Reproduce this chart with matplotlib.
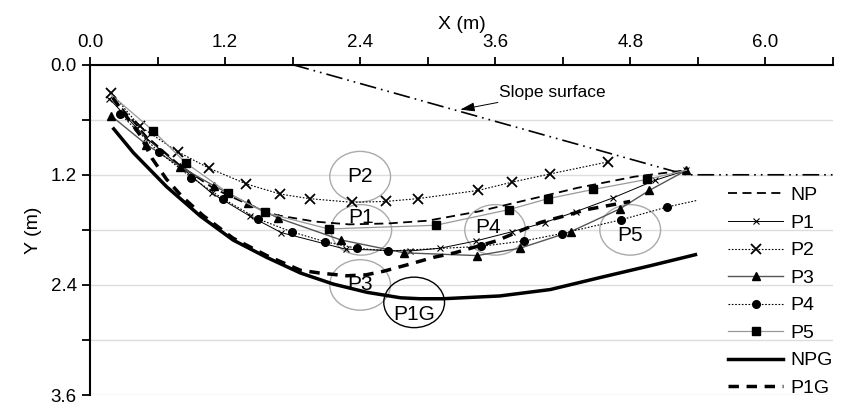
import matplotlib
matplotlib.use("Agg")
import matplotlib.pyplot as plt
from matplotlib.patches import Ellipse
from matplotlib.ticker import MultipleLocator

plt.rcParams['font.family'] = ['Liberation Sans', 'DejaVu Sans']

# slip surfaces (x, y in m, y measured downward)
np_x = [0.2, 0.5, 0.8, 1.1, 1.4, 1.66, 2.0, 2.3, 2.65, 3.0, 3.45, 4.0, 4.34, 4.84, 5.3]
np_y = [0.36, 0.78, 1.1, 1.35, 1.52, 1.64, 1.71, 1.74, 1.73, 1.70, 1.60, 1.44, 1.34, 1.22, 1.15]

p1_x = [0.17, 0.5, 0.82, 1.08, 1.42, 1.70, 2.27, 2.84, 3.11, 3.43, 3.75, 4.04, 4.32, 4.65, 5.02, 5.30]
p1_y = [0.37, 0.8, 1.13, 1.40, 1.65, 1.83, 2.01, 2.03, 2.0, 1.92, 1.82, 1.72, 1.60, 1.45, 1.26, 1.15]

p2_x = [0.19, 0.44, 0.78, 1.06, 1.39, 1.69, 1.95, 2.33, 2.63, 2.91, 3.45, 3.75, 4.09, 4.6]
p2_y = [0.31, 0.67, 0.95, 1.13, 1.30, 1.41, 1.46, 1.50, 1.49, 1.46, 1.37, 1.28, 1.19, 1.06]

p3_x = [0.19, 0.5, 0.8, 1.10, 1.40, 1.67, 2.23, 2.79, 3.44, 3.82, 4.27, 4.71, 4.97, 5.30]
p3_y = [0.56, 0.87, 1.11, 1.32, 1.51, 1.67, 1.91, 2.05, 2.08, 2.0, 1.82, 1.57, 1.37, 1.15]

p4_x = [0.27, 0.61, 0.90, 1.18, 1.49, 1.79, 2.09, 2.37, 2.65, 3.47, 3.86, 4.19, 4.72, 5.13, 5.39]
p4_y = [0.54, 0.95, 1.23, 1.46, 1.68, 1.82, 1.93, 2.0, 2.03, 1.98, 1.92, 1.84, 1.69, 1.55, 1.48]

p5_x = [0.19, 0.56, 0.85, 1.23, 1.55, 2.12, 3.07, 3.72, 4.07, 4.47, 4.95, 5.30]
p5_y = [0.33, 0.72, 1.07, 1.40, 1.61, 1.79, 1.75, 1.58, 1.46, 1.36, 1.25, 1.15]

npg_x = [0.21, 0.385, 0.68, 0.98, 1.27, 1.57, 1.87, 2.16, 2.46, 2.76, 2.93, 3.14, 3.64, 4.09, 4.53, 4.98, 5.38]
npg_y = [0.70, 0.96, 1.33, 1.65, 1.91, 2.10, 2.27, 2.39, 2.48, 2.54, 2.55, 2.55, 2.52, 2.45, 2.32, 2.19, 2.07]

p1g_x = [0.2, 0.44, 0.55, 0.68, 0.82, 1.0, 1.27, 1.57, 1.87, 2.04, 2.28, 2.45, 2.61, 2.82, 3.05, 3.24,
         3.61, 4.0, 4.21, 4.41, 4.8]
p1g_y = [0.36, 0.76, 1.02, 1.25, 1.44, 1.64, 1.89, 2.08, 2.24, 2.27, 2.30, 2.29, 2.25, 2.18, 2.10, 2.05,
         1.92, 1.72, 1.65, 1.58, 1.49]

slope_x = [1.8, 5.3, 6.6]
slope_y = [0.0, 1.2, 1.2]

zone_labels = ['P2', 'P1', 'P3', 'P4', 'P5', 'P1G']
zone_x = [2.40, 2.41, 2.40, 3.60, 4.80, 2.88]
zone_y = [1.22, 1.80, 2.40, 1.80, 1.80, 2.59]
label_x = [2.40, 2.41, 2.40, 3.54, 4.80, 2.88]
label_y = [1.22, 1.67, 2.40, 1.77, 1.86, 2.72]

fig = plt.figure(figsize=(8.42, 4.04), dpi=100)
ax = fig.add_axes([0.107, 0.022, 0.882, 0.818])

ax.plot(slope_x, slope_y, color='black', lw=1.2, linestyle=(0, (10, 3, 1, 3, 1, 3)))

ax.plot(np_x, np_y, color='black', lw=1.3, linestyle=(0, (5, 3)), label='NP')
ax.plot(p1_x, p1_y, color='black', lw=0.7, marker='x', ms=5, mew=0.8, label='P1')
ax.plot(p2_x, p2_y, color='black', lw=0.8, linestyle=(0, (1.5, 1.5)), marker='x', ms=6.5, mew=1.3, label='P2')
ax.plot(p3_x, p3_y, color='#555555', lw=1.0, marker='^', ms=6, mfc='black', mec='black', label='P3')
ax.plot(p4_x, p4_y, color='black', lw=0.8, linestyle=(0, (1.5, 1.5)), marker='o', ms=5.5,
        markevery=list(range(len(p4_x) - 1)), label='P4')
ax.plot(p5_x, p5_y, color='#999999', lw=0.9, marker='s', ms=5.5, mfc='black', mec='black',
        markevery=list(range(1, len(p5_x) - 1)), label='P5')
ax.plot(npg_x, npg_y, color='black', lw=2.5, label='NPG')
ax.plot(p1g_x, p1g_y, color='black', lw=2.5, linestyle=(0, (3, 2.2)), label='P1G')

for i, lab in enumerate(zone_labels):
    ec = 'black' if lab == 'P1G' else '#aaaaaa'
    ax.add_patch(Ellipse((zone_x[i], zone_y[i]), 0.54, 0.55, fill=False, edgecolor=ec, lw=1.0))
    ax.text(label_x[i], label_y[i], lab, ha='center', va='center', fontsize=15)

ax.annotate('Slope surface', xy=(3.29, 0.49), xytext=(3.63, 0.30), fontsize=12.5, va='center',
            arrowprops=dict(arrowstyle='-|>,head_length=0.7,head_width=0.22', lw=0.7, color='black',
                            shrinkA=0, shrinkB=0))

ax.set_xlim(0, 6.6)
ax.set_ylim(3.6, 0)
ax.xaxis.tick_top()
ax.xaxis.set_label_position('top')
ax.xaxis.set_major_locator(MultipleLocator(1.2))
ax.xaxis.set_minor_locator(MultipleLocator(0.6))
ax.yaxis.set_major_locator(MultipleLocator(1.2))
ax.yaxis.set_minor_locator(MultipleLocator(0.6))
ax.xaxis.set_major_formatter(plt.FormatStrFormatter('%.1f'))
ax.yaxis.set_major_formatter(plt.FormatStrFormatter('%.1f'))
ax.tick_params(which='both', direction='out', length=6, width=1.3, labelsize=13.5)
ax.tick_params(axis='x', which='both', top=True, bottom=False)
ax.grid(axis='y', which='both', color='#dddddd', lw=1.0)
ax.set_axisbelow(True)
for s in ['bottom', 'right']:
    ax.spines[s].set_visible(False)
for s in ['left', 'top']:
    ax.spines[s].set_linewidth(1.5)
ax.set_xlabel('X (m)', fontsize=14, labelpad=4)
ax.set_ylabel('Y (m)', fontsize=14, labelpad=6)

ax.legend(loc='upper left', bbox_to_anchor=(0.8645, 0.538), bbox_transform=fig.transFigure,
          frameon=False, fontsize=14, handlelength=2.85, labelspacing=0.51, handletextpad=0.36,
          borderpad=0, borderaxespad=0)

fig.savefig('out.png', dpi=100)
